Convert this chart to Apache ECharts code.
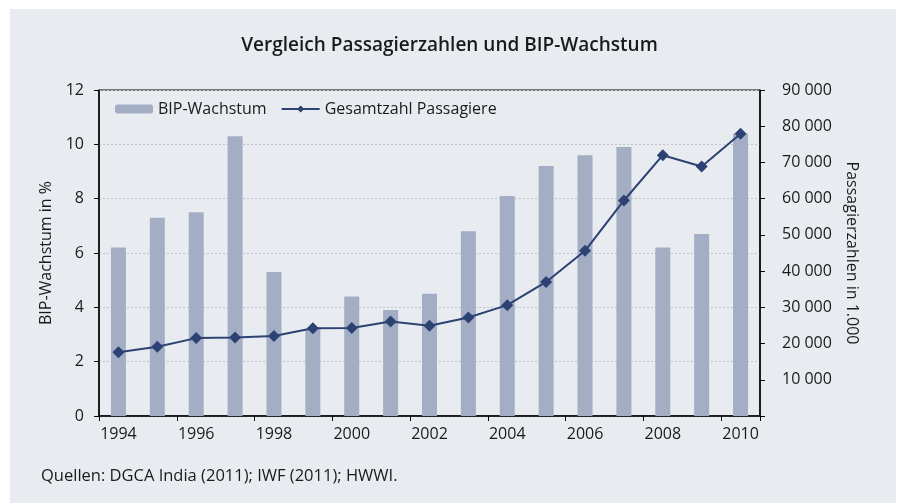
<!DOCTYPE html>
<html>
<head>
<meta charset="utf-8">
<script src="https://cdn.jsdelivr.net/npm/echarts@6/dist/echarts.min.js"></script>
<style>
  html, body { margin: 0; padding: 0; background: #fff; }
  #chart { width: 899px; height: 503px; }
</style>
</head>
<body>
<div id="chart"></div>
<script>
const years = ['1994', '1995', '1996', '1997', '1998', '1999', '2000', '2001', '2002',
               '2003', '2004', '2005', '2006', '2007', '2008', '2009', '2010'];
// BIP-Wachstum in %
const gdpGrowth = [6.2, 7.3, 7.5, 10.3, 5.3, 3.2, 4.4, 3.9, 4.5, 6.8, 8.1, 9.2, 9.6, 9.9, 6.2, 6.7, 10.4];
// Gesamtzahl Passagiere in 1.000
const passengers = [17600, 19100, 21500, 21700, 22100, 24200, 24300, 26100, 24900,
                    27200, 30600, 37000, 45600, 59500, 72000, 68900, 77900];

const font = 'Open Sans';
const textColor = '#1a1a1a';

const chart = echarts.init(document.getElementById('chart'));

const option = {
    animation: false,
    textStyle: { fontFamily: font, color: textColor },
    graphic: [
        {
            type: 'rect',
            z: -10,
            shape: { x: 10, y: 9, width: 886, height: 494 },
            style: { fill: '#e8ebf0' }
        },
        {
            type: 'text',
            left: 41,
            top: 468,
            style: {
                text: 'Quellen: DGCA India (2011); IWF (2011); HWWI.',
                font: '16.5px "Open Sans"',
                fill: textColor
            }
        }
    ],
    title: {
        text: 'Vergleich Passagierzahlen und BIP-Wachstum',
        left: 'center',
        top: 31,
        textStyle: { fontFamily: font, fontSize: 19, fontWeight: 600, color: textColor }
    },
    legend: {
        left: 110,
        top: 96,
        itemWidth: 38,
        itemHeight: 9,
        itemGap: 14,
        textStyle: { fontFamily: font, fontSize: 16, color: textColor },
        data: ['BIP-Wachstum', 'Gesamtzahl Passagiere']
    },
    grid: {
        left: 99,
        right: 139,
        top: 90,
        bottom: 87,
        show: true,
        borderColor: '#000',
        borderWidth: 1,
        backgroundColor: 'transparent'
    },
    xAxis: {
        type: 'category',
        data: years,
        boundaryGap: true,
        axisLine: { lineStyle: { color: '#000', width: 1.5 } },
        axisTick: { show: true, inside: false, length: 5, lineStyle: { color: '#000' } },
        axisLabel: { interval: 1, fontSize: 16, color: textColor, margin: 10 }
    },
    yAxis: [
        {
            type: 'value',
            min: 0,
            max: 12,
            interval: 2,
            name: 'BIP-Wachstum in %',
            nameLocation: 'middle',
            nameGap: 45,
            nameTextStyle: { fontSize: 16, color: textColor },
            axisLine: { show: true, lineStyle: { color: '#000', width: 1.5 } },
            axisTick: { show: true, length: 5, lineStyle: { color: '#000' } },
            axisLabel: { fontSize: 16, color: textColor, margin: 15 },
            splitLine: { show: true, lineStyle: { color: '#bfc3c9', type: [2, 2] } }
        },
        {
            type: 'value',
            min: 0,
            max: 90000,
            interval: 10000,
            position: 'right',
            name: 'Passagierzahlen in 1.000',
            nameLocation: 'middle',
            nameRotate: -90,
            nameGap: 84,
            nameTextStyle: { fontSize: 16, color: textColor },
            axisLine: { show: true, lineStyle: { color: '#000', width: 1.5 } },
            axisTick: { show: true, length: 5, lineStyle: { color: '#000' } },
            axisLabel: {
                fontSize: 16,
                color: textColor,
                margin: 22,
                formatter: v => v === 0 ? '' : String(v).replace(/\B(?=(\d{3})+(?!\d))/g, ' ')
            },
            splitLine: { show: false }
        }
    ],
    series: [
        {
            name: 'BIP-Wachstum',
            type: 'bar',
            yAxisIndex: 0,
            data: gdpGrowth,
            barWidth: 15,
            itemStyle: { color: '#a3aec5' }
        },
        {
            name: 'Gesamtzahl Passagiere',
            type: 'line',
            yAxisIndex: 1,
            data: passengers,
            symbol: 'diamond',
            symbolSize: 12,
            lineStyle: { color: '#2b4273', width: 2 },
            itemStyle: { color: '#2b4273' }
        }
    ]
};

chart.setOption(option);
</script>
</body>
</html>
